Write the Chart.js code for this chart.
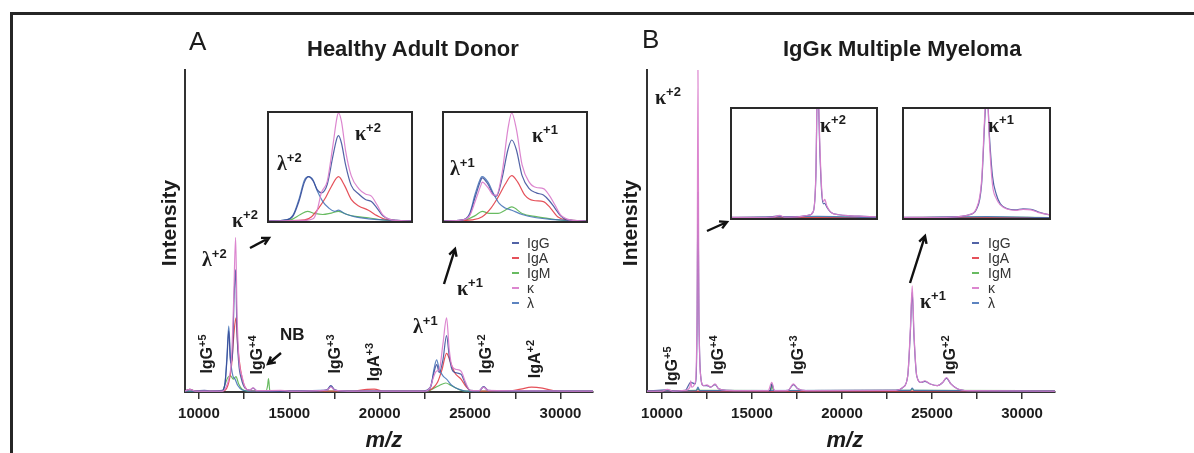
<!DOCTYPE html>
<html>
<head>
<meta charset="utf-8">
<title>Light chain spectra</title>
<script src="https://cdn.jsdelivr.net/npm/chart.js@4.4.1/dist/chart.umd.min.js"></script>
<style>
  body { margin: 0; background: #fff; }
  #page { position: relative; width: 1194px; height: 453px; overflow: hidden; background: #fff;
          font-family: "Liberation Sans", Arial, sans-serif; color: #1c1c1c; }
  .rule { position: absolute; background: #262626; }
  #page > canvas { position: absolute; top: 0; }
  .inset { position: absolute; border: 2px solid #2a2a2a; background: #fff; }
  .inset canvas { display: block; }
  .txt { position: absolute; white-space: nowrap; line-height: 1; }
  .greek { font-family: "Liberation Serif", "DejaVu Serif", serif; font-weight: bold; font-size: 20px; }
  .sup { font-family: "Liberation Sans", Arial, sans-serif; font-weight: bold; font-size: 13px; position: relative; top: -8px; }
  .rot { font-weight: bold; font-size: 16px; transform: translate(-50%, -50%) rotate(-90deg); }
  .rot .sup { font-size: 11px; top: -6px; }
  svg { position: absolute; left: 0; top: 0; }
</style>
</head>
<body>
<div id="page">
  <div class="rule" style="left:10px;top:12px;width:1184px;height:3px"></div>
  <div class="rule" style="left:10px;top:12px;width:3px;height:441px"></div>
  <canvas id="mainA" width="460" height="453" style="left:140px"></canvas>
  <canvas id="mainB" width="460" height="453" style="left:600px"></canvas>
  <div class="inset" style="left:267px;top:111px"><canvas id="insA1" width="142" height="108"></canvas></div>
  <div class="inset" style="left:442px;top:111px"><canvas id="insA2" width="142" height="108"></canvas></div>
  <div class="inset" style="left:730px;top:107px"><canvas id="insB1" width="144" height="109"></canvas></div>
  <div class="inset" style="left:902px;top:107px"><canvas id="insB2" width="145" height="109"></canvas></div>
  <svg id="arrows" width="1194" height="453"></svg>
</div>
<script>
var seriesNames = ['IgG', 'IgA', 'IgM', 'κ', 'λ'];
var lineColors = ['rgba(52,72,150,0.85)', 'rgba(226,62,72,0.9)', 'rgba(88,180,80,0.9)', 'rgba(218,128,204,0.95)', 'rgba(63,111,181,0.85)'];
var drawOrder = [1, 3, 4, 0, 2]; // kappa trace sits on top

var xTicks = [10000, 12500, 15000, 17500, 20000, 22500, 25000, 27500, 30000];
var xTickLabels = ['10000', '', '15000', '', '20000', '', '25000', '', '30000'];

// panel A, healthy donor: [m/z, relative intensity]
var aIgG = [[9230,0.3],[9500,0.8],[9800,0.3],[10300,0.5],[10600,0.3],[11300,0.5],[11450,3],[11550,10],[11650,19],[11750,9],[11850,11],[11950,30],[12030,38],[12100,20],[12200,9],[12350,4],[12550,1.2],[12800,0.6],[13000,1.2],[13200,0.4],[14000,0.3],[15000,0.3],[16500,0.3],[17100,0.8],[17300,2],[17500,0.8],[18000,0.3],[20000,0.3],[22400,0.3],[22800,1.5],[23000,6],[23150,8.5],[23300,6],[23500,10],[23700,17.5],[23850,11],[24000,7],[24200,6],[24500,5.5],[24750,2.5],[25000,0.5],[25500,0.4],[25750,1.7],[26000,0.5],[27000,0.3],[31800,0.3]];
var aIgA = [[9230,0.3],[9500,0.8],[9800,0.3],[11300,0.3],[11600,2],[11800,8],[11950,19],[12050,23],[12150,14],[12300,7],[12450,3],[12700,0.6],[13000,0.3],[18500,0.3],[19300,0.8],[19700,0.9],[20200,0.3],[22600,0.3],[22900,1],[23200,3],[23450,7],[23700,12],[23900,9.5],[24150,6],[24500,4],[24800,1.5],[25100,0.3],[27200,0.3],[27800,0.9],[28400,1.5],[29000,1.2],[29600,0.4],[30200,0.2],[31800,0.2]];
var aIgM = [[9230,0.3],[11300,0.3],[11450,2.5],[11600,4.5],[11750,5],[11900,4],[12050,4.8],[12200,2.5],[12400,0.8],[12700,0.3],[13700,0.3],[13800,2],[13850,4.2],[13920,0.5],[14100,0.3],[22700,0.3],[23000,1.2],[23300,2],[23650,2.8],[23950,2],[24300,1],[24700,0.3],[31800,0.3]];
var aKappa = [[9230,0.3],[9500,0.8],[9800,0.3],[10300,0.3],[11300,0.3],[11500,1.5],[11650,4],[11800,10],[11920,28],[12030,48],[12110,24],[12220,10],[12380,5],[12550,1.5],[12800,0.6],[13000,1.3],[13200,0.4],[14500,0.5],[15000,0.3],[17100,0.6],[17300,1.6],[17500,0.6],[18500,0.3],[22500,0.3],[22800,1.5],[23000,5],[23150,6.5],[23300,7],[23500,15],[23700,23],[23850,13],[24000,8],[24250,7],[24500,6.5],[24750,3],[25000,0.5],[25500,0.4],[25750,1.5],[26000,0.5],[31800,0.3]];
var aLambda = [[9230,0.3],[11300,0.3],[11450,3],[11550,11],[11650,20.5],[11750,10],[11880,5],[12000,4],[12150,2],[12400,0.6],[12700,0.3],[17100,0.6],[17300,1.8],[17500,0.6],[18500,0.3],[22600,0.3],[22850,2],[23000,7],[23150,10],[23300,7],[23500,5],[23700,4],[24000,2],[24400,0.8],[24800,0.3],[25500,0.3],[25750,1.6],[26000,0.4],[31800,0.3]];

// panel A insets (intensity relative to inset height)
var a1IgG = [[11100,0],[11330,1],[11425,5],[11500,18],[11575,36],[11630,41],[11690,37],[11745,29],[11800,26],[11880,34],[11955,60],[12010,77],[12030,79],[12070,72],[12125,52],[12200,33],[12300,25],[12390,20],[12470,18],[12545,12],[12620,5],[12715,1.5],[12810,0.5],[13000,0]];
var a1IgA = [[11100,0],[11575,1],[11670,4],[11765,12],[11860,22],[11935,32],[12030,41],[12110,33],[12200,20],[12300,14],[12430,10],[12545,5],[12660,1.5],[13000,0]];
var a1IgM = [[11100,0],[11385,1],[11520,6],[11615,9],[11710,7],[11820,6],[11915,7],[12030,9],[12145,6],[12280,4],[12430,3],[12620,1],[13000,0]];
var a1Kappa = [[11100,0],[11575,0.5],[11690,2],[11745,10],[11800,26],[11880,37],[11955,70],[12010,96],[12030,100],[12070,92],[12125,65],[12200,42],[12300,30],[12390,25],[12470,23],[12545,15],[12620,6],[12715,1.5],[12810,0.5],[13000,0]];
var a1Lambda = [[11100,0],[11330,1],[11425,6],[11500,20],[11575,38],[11630,41],[11690,38],[11745,28],[11820,18],[11900,12],[11975,9],[12030,10],[12110,7],[12240,4],[12430,2],[12620,1],[13000,0]];

var a2IgG = [[22450,0],[22790,1],[22920,6],[23020,22],[23125,38],[23150,40],[23255,34],[23360,24],[23410,23],[23515,40],[23620,66],[23690,75],[23775,66],[23880,42],[24010,30],[24140,26],[24270,24],[24375,19],[24480,12],[24580,5],[24690,1.5],[25050,0]];
var a2IgA = [[22450,0],[22970,1],[23150,4],[23310,12],[23440,22],[23570,34],[23690,42],[23800,36],[23930,24],[24090,19],[24270,18],[24400,12],[24530,4],[24690,1],[25050,0]];
var a2IgM = [[22450,0],[22840,1],[23020,5],[23150,9],[23280,7],[23440,7],[23570,10],[23690,13],[23880,7],[24140,4],[24400,2],[24660,0.5],[25050,0]];
var a2Kappa = [[22450,0],[22790,1],[22920,5],[23020,18],[23125,33],[23150,36],[23255,31],[23360,24],[23410,24],[23515,45],[23620,85],[23690,100],[23775,85],[23880,52],[24010,36],[24140,31],[24270,30],[24375,24],[24480,15],[24580,6],[24690,2],[24840,0.5],[25050,0]];
var a2Lambda = [[22450,0],[22790,1],[22920,7],[23020,25],[23125,40],[23150,41],[23255,36],[23360,25],[23465,16],[23570,12],[23690,10],[23880,6],[24140,3],[24400,1.5],[25050,0]];

// panel B, IgG kappa myeloma
var bIgG = [[9170,0.3],[10300,0.7],[10600,0.3],[11300,0.5],[11600,3],[11850,2.5],[11950,20],[12000,62],[12050,25],[12150,5],[12300,2],[12500,2],[12700,1.5],[12950,2.3],[13150,1],[13600,0.5],[16000,0.4],[16100,2.5],[16250,0.4],[17000,0.5],[17300,2.3],[17550,1],[18000,0.4],[23000,0.5],[23400,1.5],[23650,5],[23800,19],[23900,31],[24000,17],[24150,5],[24400,3],[24600,3.3],[24900,2.5],[25300,2],[25600,3],[25800,4.3],[26050,2.5],[26400,1],[27000,0.4],[31830,0.3]];
var bIgA = [[9170,0.2],[12000,0.3],[16000,0.2],[24000,0.3],[31830,0.2]];
var bIgM = [[9170,0.4],[11900,0.5],[12000,1],[12100,0.5],[16050,0.4],[16100,2.5],[16200,0.4],[23800,0.5],[23900,1],[24000,0.5],[31830,0.4]];
var bKappa = [[9170,0.3],[10000,0.3],[10300,0.8],[10600,0.3],[11300,0.5],[11550,1.5],[11600,3.5],[11650,1.5],[11850,3],[11950,25],[12000,100],[12050,30],[12150,5],[12300,2],[12500,2.2],[12700,1.5],[12950,2.5],[13150,1],[13600,0.5],[15900,0.4],[16100,3],[16250,0.4],[17000,0.5],[17300,2.5],[17550,1],[18000,0.4],[23000,0.5],[23400,1.5],[23650,5],[23800,20],[23900,33],[24000,18],[24150,5],[24400,3],[24600,3.5],[24900,2.5],[25300,2],[25600,3],[25800,4.5],[26050,2.5],[26400,1],[27000,0.4],[31830,0.3]];
var bLambda = [[9170,0.3],[11900,0.4],[12000,1.5],[12100,0.4],[23800,0.5],[23900,1.2],[24000,0.5],[31830,0.3]];

var b1IgG = [[11000,0.5],[11400,0.6],[11560,2],[11620,0.8],[11800,1.2],[11900,2.5],[11960,6],[11990,38],[12010,125],[12040,55],[12060,22],[12080,13],[12095,13.5],[12120,10],[12170,5],[12260,3],[12400,2],[12550,1.5],[12700,1]];
var b1IgA = [[11000,0.3],[12700,0.3]];
var b1IgM = [[11000,0.4],[12010,0.8],[12700,0.4]];
var b1Kappa = [[11000,0.5],[11400,0.6],[11500,1],[11560,2.5],[11620,0.8],[11800,1.2],[11900,2.5],[11960,6],[11990,40],[12010,130],[12040,60],[12060,25],[12080,15],[12095,17],[12120,11],[12170,5],[12260,3],[12400,2],[12550,1.5],[12700,1]];
var b1Lambda = [[11000,0.3],[12010,1.5],[12700,0.3]];

var b2IgG = [[22300,0.5],[23000,0.6],[23400,1.5],[23560,3],[23700,8],[23800,32],[23860,90],[23900,120],[23950,75],[24010,38],[24080,22],[24160,13],[24300,8.5],[24450,7.5],[24600,8.5],[24750,8],[24900,5.5],[25000,4],[25100,3]];
var b2IgA = [[22300,0.3],[25100,0.3]];
var b2IgM = [[22300,0.4],[23900,0.8],[25100,0.4]];
var b2Kappa = [[22300,0.5],[23000,0.6],[23400,1.5],[23560,3],[23700,9],[23800,35],[23860,95],[23900,125],[23950,70],[24010,30],[24080,18],[24160,12],[24300,8],[24450,7],[24600,8],[24750,7.5],[24900,5],[25000,4],[25100,3]];
var b2Lambda = [[22300,0.3],[23900,1.2],[25100,0.3]];

// text placed on the figure (page pixels)
var headings = [
  {html: 'A', x: 189, base: 50, size: 26, weight: 'normal'},
  {html: 'B', x: 642, base: 48, size: 26, weight: 'normal'},
  {html: 'Healthy Adult Donor', cx: 413, base: 57, size: 22, weight: 'bold'},
  {html: 'IgGκ Multiple Myeloma', cx: 902, base: 57, size: 22, weight: 'bold'},
  {html: '<i>m/z</i>', cx: 384, base: 448, size: 22, weight: 'bold'},
  {html: '<i>m/z</i>', cx: 845, base: 448, size: 22, weight: 'bold'},
  {html: 'NB', x: 280, base: 340, size: 17, weight: 'bold'}
];
var axisTitles = [{cx: 168, cy: 223}, {cx: 629, cy: 223}];
var greekLabels = [
  ['λ', '+2', 202, 266], ['κ', '+2', 232, 227], ['λ', '+1', 413, 333], ['κ', '+1', 457, 295],
  ['λ', '+2', 277, 170], ['κ', '+2', 355, 140], ['λ', '+1', 450, 175], ['κ', '+1', 532, 142],
  ['κ', '+2', 655, 104], ['κ', '+1', 920, 308], ['κ', '+2', 820, 132], ['κ', '+1', 988, 132]
];
var peakLabels = [
  ['IgG', '+5', 207, 354], ['IgG', '+4', 257, 355], ['IgG', '+3', 335, 354], ['IgA', '+3', 374, 362],
  ['IgG', '+2', 486, 354], ['IgA', '+2', 535, 359],
  ['IgG', '+5', 672, 366], ['IgG', '+4', 718, 355], ['IgG', '+3', 798, 355], ['IgG', '+2', 950, 355]
];
var arrowList = [[250, 248, 269, 238], [444, 284, 455, 249], [281, 353, 268, 364], [707, 231, 727, 222], [910, 283, 925, 236]];
var legendSpots = [{dash: 512, text: 527}, {dash: 972, text: 988}];
var legendRows = [243, 258, 273, 288, 303];

function makeDatasets(list) {
  return list.map(function (pts, i) {
    return {
      label: seriesNames[i],
      data: pts.map(function (p) { return {x: p[0], y: p[1]}; }),
      borderColor: lineColors[i],
      borderWidth: 1.2,
      pointRadius: 0,
      fill: false,
      order: drawOrder[i],
      cubicInterpolationMode: 'monotone'
    };
  });
}

function drawMain(id, list, xMin, xMax, padLeft, padRight) {
  return new Chart(document.getElementById(id), {
    type: 'line',
    data: {datasets: makeDatasets(list)},
    options: {
      responsive: false,
      animation: false,
      events: [],
      layout: {padding: {top: 70, left: padLeft, right: padRight, bottom: 0}},
      plugins: {legend: {display: false}, tooltip: {enabled: false}},
      scales: {
        x: {
          type: 'linear', min: xMin, max: xMax,
          afterBuildTicks: function (s) { s.ticks = xTicks.map(function (v) { return {value: v}; }); },
          afterFit: function (s) { s.height = 61; },
          ticks: {
            autoSkip: false, maxRotation: 0, padding: 6, color: '#1c1c1c',
            font: {family: '"Liberation Sans", Arial, sans-serif', size: 15, weight: 'bold'},
            callback: function (v, i) { return xTickLabels[i]; }
          },
          grid: {display: true, drawOnChartArea: false, tickLength: 7, color: '#333', lineWidth: 1.5},
          border: {display: true, color: '#333', width: 2}
        },
        y: {
          min: 0, max: 100,
          afterFit: function (s) { s.width = 0; },
          ticks: {display: false},
          grid: {display: false},
          border: {display: true, color: '#333', width: 2}
        }
      }
    }
  });
}

function drawInset(id, list, xMin, xMax) {
  return new Chart(document.getElementById(id), {
    type: 'line',
    data: {datasets: makeDatasets(list)},
    options: {
      responsive: false,
      animation: false,
      events: [],
      layout: {padding: 0},
      plugins: {legend: {display: false}, tooltip: {enabled: false}},
      scales: {
        x: {type: 'linear', min: xMin, max: xMax, display: false},
        y: {min: 0, max: 100, display: false}
      }
    }
  });
}

drawMain('mainA', [aIgG, aIgA, aIgM, aKappa, aLambda], 9230, 31800, 45, 7);
drawMain('mainB', [bIgG, bIgA, bIgM, bKappa, bLambda], 9170, 31830, 47, 5);
drawInset('insA1', [a1IgG, a1IgA, a1IgM, a1Kappa, a1Lambda], 11100, 13000);
drawInset('insA2', [a2IgG, a2IgA, a2IgM, a2Kappa, a2Lambda], 22450, 25050);
drawInset('insB1', [b1IgG, b1IgA, b1IgM, b1Kappa, b1Lambda], 11000, 12700);
drawInset('insB2', [b2IgG, b2IgA, b2IgM, b2Kappa, b2Lambda], 22300, 25100);

var page = document.getElementById('page');

function addText(cls, html, css) {
  var d = document.createElement('div');
  d.className = 'txt ' + cls;
  d.innerHTML = html;
  for (var k in css) { d.style[k] = css[k]; }
  page.appendChild(d);
  return d;
}

headings.forEach(function (h) {
  var d = addText('', h.html, {fontSize: h.size + 'px', fontWeight: h.weight, top: (h.base - 0.85 * h.size) + 'px'});
  if (h.cx !== undefined) {
    d.style.left = (h.cx - d.offsetWidth / 2) + 'px';
  } else {
    d.style.left = h.x + 'px';
  }
});

axisTitles.forEach(function (a) {
  addText('', 'Intensity', {left: a.cx + 'px', top: a.cy + 'px', fontSize: '21px', fontWeight: 'bold',
    transform: 'translate(-50%, -50%) rotate(-90deg)'});
});

greekLabels.forEach(function (g) {
  addText('greek', g[0] + '<span class="sup">' + g[1] + '</span>', {left: g[2] + 'px', top: (g[3] - 17) + 'px'});
});

peakLabels.forEach(function (p) {
  addText('rot', p[0] + '<span class="sup">' + p[1] + '</span>', {left: p[2] + 'px', top: p[3] + 'px'});
});

legendSpots.forEach(function (spot) {
  seriesNames.forEach(function (name, i) {
    var dash = document.createElement('span');
    dash.style.cssText = 'position:absolute;width:7px;height:2px;left:' + spot.dash + 'px;top:' + (legendRows[i] - 1) + 'px;background:' + lineColors[i];
    page.appendChild(dash);
    addText('', name, {left: spot.text + 'px', top: (legendRows[i] - 7) + 'px', fontSize: '14px', color: '#333'});
  });
});

// arrows pointing at the insets
var svg = document.getElementById('arrows');
var ns = 'http://www.w3.org/2000/svg';
arrowList.forEach(function (a) {
  var ang = Math.atan2(a[3] - a[1], a[2] - a[0]);
  var head = 8;
  var p1x = a[2] - head * Math.cos(ang - 0.5), p1y = a[3] - head * Math.sin(ang - 0.5);
  var p2x = a[2] - head * Math.cos(ang + 0.5), p2y = a[3] - head * Math.sin(ang + 0.5);
  var path = document.createElementNS(ns, 'path');
  path.setAttribute('d', 'M' + a[0] + ' ' + a[1] + ' L' + a[2] + ' ' + a[3] +
    ' M' + p1x + ' ' + p1y + ' L' + a[2] + ' ' + a[3] + ' L' + p2x + ' ' + p2y);
  path.setAttribute('stroke', '#111');
  path.setAttribute('stroke-width', '2.4');
  path.setAttribute('fill', 'none');
  svg.appendChild(path);
});
</script>
</body>
</html>
